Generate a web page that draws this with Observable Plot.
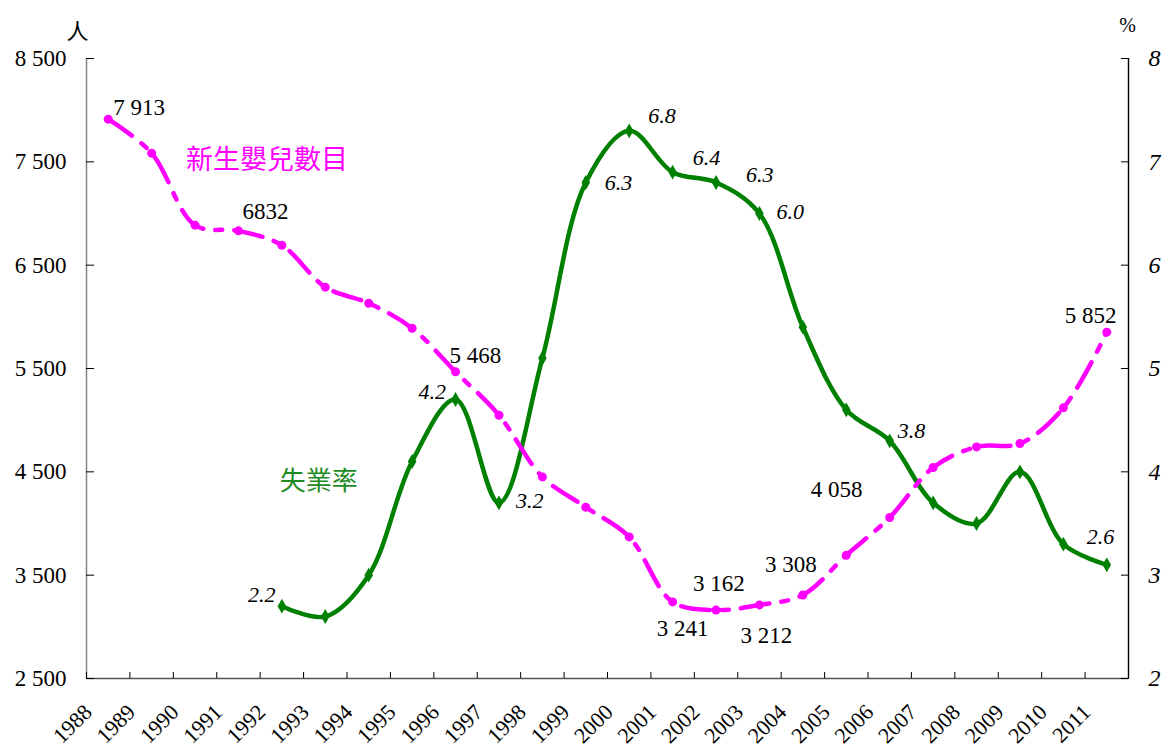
<!DOCTYPE html>
<html>
<head>
<meta charset="utf-8">
<script src="https://cdn.jsdelivr.net/npm/d3@7"></script>
<script src="https://cdn.jsdelivr.net/npm/@observablehq/plot@0.6"></script>
<style>
html, body { margin: 0; padding: 0; background: #fff; }
#chart svg { display: block; }
#chart svg text { font-family: "Liberation Serif", "Times New Roman", "Noto Sans CJK TC", serif; }
</style>
</head>
<body>
<div id="chart"></div>
<script>
// ---- data ----
const years = [1988, 1989, 1990, 1991, 1992, 1993, 1994, 1995, 1996, 1997, 1998, 1999,
               2000, 2001, 2002, 2003, 2004, 2005, 2006, 2007, 2008, 2009, 2010, 2011];
const births = [7913, 7584, 6887, 6832, 6693, 6287, 6132, 5890, 5468, 5048, 4451, 4158,
                3870, 3241, 3162, 3212, 3308, 3693, 4058, 4542, 4741, 4774, 5119, 5852];
const unempYears = [1992, 1993, 1994, 1995, 1996, 1997, 1998, 1999, 2000, 2001,
                    2002, 2003, 2004, 2005, 2006, 2007, 2008, 2009, 2010, 2011];
const unemp = [2.7, 2.6, 3.0, 4.1, 4.7, 3.7, 5.1, 6.8, 7.3, 6.9,
               6.8, 6.5, 5.4, 4.6, 4.3, 3.7, 3.5, 4.0, 3.3, 3.1];
const leftTicks = [2500, 3500, 4500, 5500, 6500, 7500, 8500];
const rightTicks = [2, 3, 4, 5, 6, 7, 8];
const birthLabelYears = [1988, 1991, 1996, 2001, 2002, 2003, 2004, 2006, 2011];
const birthLabelTexts = ["7 913", "6832", "5 468", "3 241", "3 162", "3 212", "3 308", "4 058", "5 852"];
const unempLabelYears = [1992, 1996, 1997, 1999, 2000, 2001, 2002, 2003, 2006, 2011];
const unempLabelTexts = ["2.2", "4.2", "3.2", "6.3", "6.8", "6.4", "6.3", "6.0", "3.8", "2.6"];
const birthSeriesName = "新生嬰兒數目";
const unempSeriesName = "失業率";
const leftUnit = "人";
const rightUnit = "%";

// ---- layout (pixel offsets of labels from their points) ----
const birthLabelOffsets = [[5, -4.5], [4, -12], [-6, -9], [-16, 34], [-23, -19], [-19, 38], [-38, -23], [-79, -21], [-42, -9]];
const unempLabelOffsets = [[-34, -4], [-37, -1], [17, 5], [19, 7], [19, -8], [20, -7], [30, -1], [17, 5], [8, -3], [-20, -21]];

const SERIF = "Liberation Serif, Times New Roman, serif";
const CJK = "Noto Sans CJK TC, Noto Sans CJK SC, sans-serif";
const MAGENTA = "#ff00ff";
const GREEN = "#008000";

const pctToPeople = p => 2500 + (p - 2) * 1000;
const peopleToPct = v => (v - 2500) / 1000 + 2;
const fmtThousands = d => d3.format(",")(d).replace(/,/g, " ");

const birthData = years.map((y, i) => ({year: y, value: births[i]}));
const unempData = unempYears.map((y, i) => ({year: y, value: pctToPeople(unemp[i])}));
const boundaries = [...years.map(y => y - 0.5), years[years.length - 1] + 0.5];

const birthLabelMarks = birthLabelYears.map((yr, i) => Plot.text([{year: yr, value: births[years.indexOf(yr)], t: birthLabelTexts[i]}], {
  x: "year", y: "value", text: "t", textAnchor: "start", lineAnchor: "bottom",
  dx: birthLabelOffsets[i][0], dy: birthLabelOffsets[i][1],
  fontSize: 23, fontFamily: SERIF, fill: "#000"
}));
const unempLabelMarks = unempLabelYears.map((yr, i) => Plot.text([{year: yr, value: pctToPeople(unemp[unempYears.indexOf(yr)]), t: unempLabelTexts[i]}], {
  x: "year", y: "value", text: "t", textAnchor: "start", lineAnchor: "bottom",
  dx: unempLabelOffsets[i][0], dy: unempLabelOffsets[i][1],
  fontSize: 22, fontFamily: SERIF, fontStyle: "italic", fill: "#000"
}));

const chart = Plot.plot({
  width: 1162,
  height: 746,
  marginLeft: 86,
  marginRight: 34,
  marginTop: 58,
  marginBottom: 68,
  style: {background: "#fff", overflow: "visible", color: "#000"},
  x: {domain: [1987.5, 2011.5], label: null},
  y: {domain: [2500, 8500], label: null},
  marks: [
    // frame lines
    Plot.ruleX([1987.5], {stroke: "#8a8a8a", strokeWidth: 1.6}),
    Plot.ruleX([2011.5], {stroke: "#000", strokeWidth: 1.4}),
    Plot.ruleY([2500], {stroke: "#555", strokeWidth: 1.5}),
    // left axis
    Plot.axisY({anchor: "left", ticks: leftTicks, tickSize: -8, tickPadding: 28, label: null,
      tickFormat: fmtThousands, fontSize: 23, fontFamily: SERIF}),
    // right axis (percent mapped onto left scale)
    Plot.axisY({anchor: "right", ticks: rightTicks.map(pctToPeople), tickSize: -8, tickPadding: 28, label: null,
      tickFormat: d => String(peopleToPct(d)), fontSize: 24, fontFamily: SERIF, fontStyle: "italic"}),
    // bottom ticks at year boundaries
    Plot.axisX({anchor: "bottom", ticks: boundaries, tickSize: -6, label: null, tickFormat: () => ""}),
    // year labels
    Plot.text(years, {x: d => d, text: d => String(d), frameAnchor: "bottom", rotate: -45, textAnchor: "end", lineAnchor: "middle",
      dx: -20, dy: 30, fontSize: 22, fontFamily: SERIF, fill: "#000"}),
    // unemployment
    Plot.line(unempData, {x: "year", y: "value", stroke: GREEN, strokeWidth: 4.5, curve: "catmull-rom"}),
    Plot.dot(unempData, {x: "year", y: "value", symbol: "diamond", r: 4.5, fill: GREEN, stroke: "none"}),
    // births
    Plot.line(birthData, {x: "year", y: "value", stroke: MAGENTA, strokeWidth: 4.5,
      strokeDasharray: "29,12,7,12", curve: "catmull-rom"}),
    Plot.dot(birthData, {x: "year", y: "value", r: 4.5, fill: MAGENTA, stroke: "none"}),
    // value labels
    ...birthLabelMarks,
    ...unempLabelMarks,
    // series names
    Plot.text([birthSeriesName], {x: 1991.66, y: 7510, text: d => d, textAnchor: "middle", lineAnchor: "middle",
      fontSize: 27, fontFamily: CJK, fill: MAGENTA}),
    Plot.text([unempSeriesName], {x: 1992.85, y: 4403, text: d => d, textAnchor: "middle", lineAnchor: "middle",
      fontSize: 26, fontFamily: CJK, fill: "#1f8a1f"}),
    // units
    Plot.text([leftUnit], {frameAnchor: "top-left", text: d => d, dx: -9, dy: -27, textAnchor: "middle", lineAnchor: "middle",
      fontSize: 22, fontFamily: CJK, fill: "#000"}),
    Plot.text([rightUnit], {frameAnchor: "top-right", text: d => d, dx: -1, dy: -33, textAnchor: "middle", lineAnchor: "middle",
      fontSize: 20, fontFamily: SERIF, fill: "#000"})
  ]
});
document.getElementById("chart").appendChild(chart);
</script>
</body>
</html>
